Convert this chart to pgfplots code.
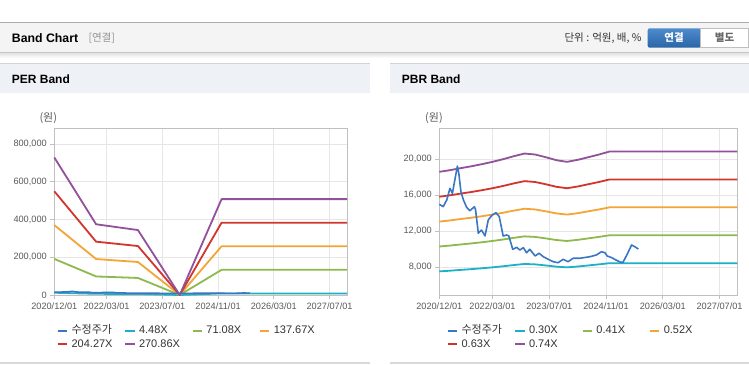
\documentclass[border=0pt]{standalone}
\usepackage{pgfplots}
\usepackage{pgfplotstable}
\pgfplotsset{compat=1.18}
\usepackage{fontspec}
\setmainfont{Liberation Sans}
\newfontfamily\kr{Noto Sans CJK KR}
\definecolor{cprice}{HTML}{3A76C4}
\definecolor{ccyan}{HTML}{1EB0C6}
\definecolor{cgreen}{HTML}{8DB94D}
\definecolor{corange}{HTML}{F4A535}
\definecolor{cred}{HTML}{D1352C}
\definecolor{cpurple}{HTML}{93509B}
\definecolor{cgrid}{HTML}{E6E6E6}
\definecolor{cframe}{HTML}{C0C0C0}
\definecolor{ctick}{HTML}{5A5A5A}
\definecolor{cpanel}{HTML}{EEF2F7}
\definecolor{chead}{HTML}{F4F4F4}
\definecolor{ctext}{HTML}{333333}

\pgfplotstableread{
m b4 b71 b137 b204 b270
0 12051 191205 370332 549486 728613
12 6196 98304 190398 282505 374599
24 5690 90272 174841 259423 343992
36 0 0 0 0 0
48 8400 133275 258131 383006 507863
84 8400 133275 258131 383006 507863
}\perdata

\pgfplotstableread{
m b30 b41 b52 b63 b74
0 7545 10312 13078 15845 18611
3 7620 10414 13208 16002 18796
6 7710 10537 13364 16191 19018
9 7794 10652 13510 16367 19225
12 7890 10783 13676 16569 19462
15 7995 10927 13858 16790 19721
18 8115 11091 14066 17042 20017
21 8250 11275 14300 17325 20350
24 8370 11439 14508 17577 20646
27 8325 11378 14430 17483 20535
30 8205 11214 14222 17231 20239
33 8070 11029 13988 16947 19906
36 7995 10927 13858 16790 19721
39 8085 11050 14014 16979 19943
42 8205 11214 14222 17231 20239
45 8325 11378 14430 17483 20535
48 8460 11562 14664 17766 20868
84 8460 11562 14664 17766 20868
}\pbrdata

\pgfplotstableread{
m p
0 15000
1.1 14750
2.1 15480
3.0 16780
3.7 16220
4.2 17330
5.1 19250
5.5 18440
6.1 16400
6.8 15480
7.7 14670
8.6 14290
9.9 14730
10.2 14440
11.0 11780
11.9 12140
12.9 11480
13.8 13260
14.9 13810
16.0 14070
16.9 13620
18.0 11480
19.0 11590
19.6 11480
20.7 10000
21.8 10220
22.7 9920
23.7 10180
24.6 9620
25.5 10000
27.0 9260
28.1 9560
29.3 9180
30.7 8890
32.1 8620
33.5 8510
34.9 8890
36.3 8620
37.7 9000
39.6 9000
42.5 9180
44.3 9370
45.7 9730
46.7 9620
47.3 9260
48.6 9070
49.8 8810
51.1 8560
51.8 8560
53.1 9560
54.2 10480
55.1 10290
56.1 10030
}\pricedata

\pgfplotsset{
  bandaxis/.style={
    scale only axis,
    xmin=0, xmax=84,
    xtick={0,15,31,47,63,79},
    xticklabels={2020/12/01,2022/03/01,2023/07/01,2024/11/01,2026/03/01,2027/07/01},
    tick pos=left,
    tick align=outside,
    major tick length=4pt,
    tick style={cframe, line width=0.8pt},
    axis line style={cframe, line width=0.8pt},
    grid=major,
    grid style={cgrid, line width=0.8pt},
    scaled y ticks=false,
    /pgf/number format/assume math mode=true,
    yticklabel style={/pgf/number format/fixed, /pgf/number format/1000 sep={,}, font=\fontsize{9.2}{10}\selectfont, text=ctick},
    xticklabel style={font=\fontsize{9.2}{10}\selectfont, text=ctick},
    clip=false,
    legend columns=4,
    legend cell align=left,
    legend image code/.code={\draw[##1, line width=2.4pt] (0pt,0pt) -- (9.4pt,0pt);},
    legend style={draw=none, fill=none, anchor=north west,
      font=\fontsize{11}{12}\selectfont, text=ctext,
      column sep=0pt, row sep=2.8pt,
      nodes={inner xsep=3.3pt, inner ysep=0pt, text width=49pt, align=left, text height=8pt, text depth=2.5pt}},
    every axis plot/.append style={line width=1.8pt, line join=round},
  }
}

\begin{document}
\begin{tikzpicture}[x=1pt,y=1pt]
\useasboundingbox (0,0) rectangle (749,364);
\fill[white] (0,0) rectangle (749,364);
% top header bar
\shade[top color=gray!22, bottom color=white] (0,306) rectangle (749,311);
\fill[chead] (0,311.3) rectangle (749,341);
\draw[gray!45, line width=0.8pt] (0,311.3) -- (749,311.3);
\draw[gray!65, line width=1pt] (0,341.3) -- (749,341.3);
\node[anchor=west, inner sep=0pt, font=\fontsize{12.3}{14}\selectfont\bfseries, text=black] at (11.7,326) {Band Chart};
\node[anchor=west, inner sep=0pt, font=\kr\fontsize{10.5}{12}\selectfont, text=gray!85] at (88.3,326) {[연결]};
\node[anchor=east, inner sep=0pt, font=\kr\fontsize{10.5}{12}\selectfont, text=ctext] at (641.7,325.5) {단위 : 억원, 배, \%};
\shade[top color={rgb,255:red,78;green,140;blue,204}, bottom color={rgb,255:red,42;green,100;blue,166}, rounded corners=2pt] (647.7,316.3) rectangle (701,335.7);
\node[font=\kr\bfseries\fontsize{10.5}{12}\selectfont, text=white] at (674,326) {연결};
\draw[fill=white, draw=gray!50] (700.5,316.3) rectangle (748.5,335.7);
\node[font=\kr\bfseries\fontsize{10.5}{12}\selectfont, text=gray!80!black] at (724.5,326) {별도};
% panels
\fill[cpanel] (0,271.3) rectangle (370,299.5);
\fill[cpanel] (390,271.3) rectangle (749,299.5);
\draw[gray!35, line width=1pt] (0,300) -- (370,300);
\draw[gray!35, line width=1pt] (390,300) -- (749,300);
\draw[gray!30, line width=1.5pt] (0,1.2) -- (370,1.2);
\draw[gray!30, line width=1.5pt] (390,1.2) -- (749,1.2);
\node[anchor=west, inner sep=0pt, font=\fontsize{12}{14}\selectfont\bfseries, text=black] at (11.7,284.5) {PER Band};
\node[anchor=west, inner sep=0pt, font=\fontsize{12}{14}\selectfont\bfseries, text=black] at (401.7,284.5) {PBR Band};
\node[inner sep=0pt, font=\kr\fontsize{11}{12}\selectfont, text=ctick] at (48.3,245.7) {(원)};
\node[inner sep=0pt, font=\kr\fontsize{11}{12}\selectfont, text=ctick] at (434,245.7) {(원)};

% PER axis
\begin{axis}[bandaxis, at={(54.3pt,69pt)}, anchor=south west,
  width=292.7pt, height=166.7pt,
  ymin=0, ymax=883000,
  ytick={0,200000,400000,600000,800000},
  legend style={at={(axis description cs:0,0)}, xshift=-1pt, yshift=-28.5pt}]
\addlegendimage{cprice}
\addlegendentry{\kr 수정주가}
\addplot[ccyan] table[x=m, y=b4] {\perdata};
\addlegendentry{4.48X}
\addplot[cgreen] table[x=m, y=b71] {\perdata};
\addlegendentry{71.08X}
\addplot[corange] table[x=m, y=b137] {\perdata};
\addlegendentry{137.67X}
\addplot[cred] table[x=m, y=b204] {\perdata};
\addlegendentry{204.27X}
\addplot[cpurple] table[x=m, y=b270] {\perdata};
\addlegendentry{270.86X}
\addplot[cprice, line width=1.6pt, forget plot] table[x=m, y=p] {\pricedata};
\end{axis}

% PBR axis
\begin{axis}[bandaxis, at={(439.3pt,69pt)}, anchor=south west,
  width=298pt, height=166.7pt,
  ymin=4920, ymax=23450,
  ytick={8000,12000,16000,20000},
  legend style={at={(axis description cs:0,0)}, xshift=4pt, yshift=-28.5pt}]
\addlegendimage{cprice}
\addlegendentry{\kr 수정주가}
\addplot[ccyan] table[x=m, y=b30] {\pbrdata};
\addlegendentry{0.30X}
\addplot[cgreen] table[x=m, y=b41] {\pbrdata};
\addlegendentry{0.41X}
\addplot[corange] table[x=m, y=b52] {\pbrdata};
\addlegendentry{0.52X}
\addplot[cred] table[x=m, y=b63] {\pbrdata};
\addlegendentry{0.63X}
\addplot[cpurple] table[x=m, y=b74] {\pbrdata};
\addlegendentry{0.74X}
\addplot[cprice, line width=1.6pt, forget plot] table[x=m, y=p] {\pricedata};
\end{axis}
\end{tikzpicture}
\end{document}
